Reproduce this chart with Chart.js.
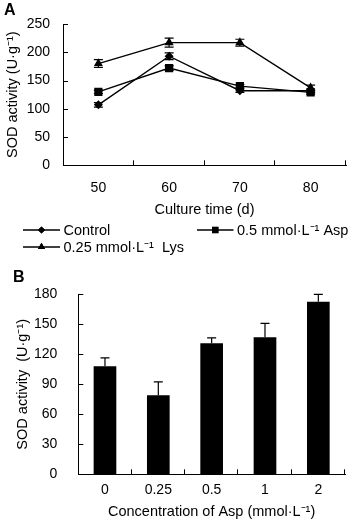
<!DOCTYPE html>
<html>
<head>
<meta charset="utf-8">
<script src="https://cdn.jsdelivr.net/npm/chart.js@4/dist/chart.umd.min.js"></script>
<style>
  html, body { margin:0; padding:0; background:#fff; }
  body { width:354px; height:529px; position:relative; overflow:hidden; font-family:"Liberation Sans", Arial, sans-serif; }
  .panel { position:absolute; font-weight:bold; font-size:16px; line-height:16px; color:#000; }
  #wrapA { position:absolute; left:0; top:0; width:354px; height:262px; }
  #wrapB { position:absolute; left:0; top:262px; width:354px; height:267px; }
</style>
</head>
<body>
<div id="wrapA"><canvas id="chartA" width="354" height="262"></canvas></div>
<div id="wrapB"><canvas id="chartB" width="354" height="267"></canvas></div>
<div class="panel" style="left:4px;top:2px;">A</div>
<div class="panel" style="left:13px;top:269px;">B</div>
<script>
// ---------- Data: panel A ----------
const days = ['50', '60', '70', '80'];
const controlValues = [107, 193, 132, 132];
const controlErrors = [4, 6, 3, 3];
const aspValues = [130, 172, 140, 129];
const aspErrors = [3, 4, 3, 3];
const lysValues = [180, 217, 217, 137];
const lysErrors = [7, 8, 6, 5];
const seriesNames = ['Control', '0.5 mmol\u00B7L\u207B\u00B9 Asp', '0.25 mmol\u00B7L\u207B\u00B9  Lys'];
const yTicksA = [0, 50, 100, 150, 200, 250];

// ---------- Data: panel B ----------
const concentrations = ['0', '0.25', '0.5', '1', '2'];
const sodValues = [108, 79, 131, 137, 172.5];
const sodErrors = [8.5, 13.5, 5.5, 14, 7.5];
const yTicksB = [0, 30, 60, 90, 120, 150, 180];

const FONT = '"Liberation Sans", Arial, sans-serif';
Chart.defaults.color = '#000';
Chart.defaults.font.family = FONT;
Chart.defaults.font.size = 14;

// inward tick marks
const inwardTicks = {
  id: 'inwardTicks',
  afterDraw(chart) {
    const ctx = chart.ctx, a = chart.chartArea, x = chart.scales.x, y = chart.scales.y;
    ctx.save();
    ctx.strokeStyle = '#000';
    ctx.lineWidth = 1;
    ctx.beginPath();
    y.ticks.forEach((t, i) => {
      const py = Math.round(y.getPixelForTick(i)) + 0.5;
      ctx.moveTo(a.left, py); ctx.lineTo(a.left + 5, py);
    });
    const n = x.ticks.length, w = (a.right - a.left) / n;
    for (let i = 1; i <= n; i++) {
      const px = Math.round(a.left + i * w) - 0.5;
      ctx.moveTo(px, a.bottom); ctx.lineTo(px, a.bottom - 5);
    }
    ctx.stroke();
    ctx.restore();
  }
};

// error bars
const errorBars = {
  id: 'errorBars',
  afterDatasetsDraw(chart, args, opts) {
    const ctx = chart.ctx, x = chart.scales.x, y = chart.scales.y;
    ctx.save();
    ctx.strokeStyle = '#000';
    ctx.lineWidth = 1.2;
    chart.data.datasets.forEach((ds, di) => {
      const errs = opts.errors[di];
      if (!errs) return;
      ds.data.forEach((v, i) => {
        const px = x.getPixelForValue(i);
        const top = y.getPixelForValue(v + errs[i]);
        const bot = opts.oneSided ? y.getPixelForValue(v) : y.getPixelForValue(v - errs[i]);
        const cw = opts.cap;
        ctx.beginPath();
        ctx.moveTo(px, top); ctx.lineTo(px, bot);
        ctx.moveTo(px - cw, top); ctx.lineTo(px + cw, top);
        if (!opts.oneSided) { ctx.moveTo(px - cw, bot); ctx.lineTo(px + cw, bot); }
        ctx.stroke();
      });
    });
    ctx.restore();
  }
};

// custom legend for panel A (line + marker glyphs)
const lineLegend = {
  id: 'lineLegend',
  afterDraw(chart, args, opts) {
    const ctx = chart.ctx;
    ctx.save();
    chart.data.datasets.forEach((ds, i) => {
      const p = opts.items[i];
      ctx.strokeStyle = '#000';
      ctx.lineWidth = 1.3;
      ctx.beginPath();
      ctx.moveTo(p.x0, p.y); ctx.lineTo(p.x1, p.y);
      ctx.stroke();
      ctx.fillStyle = '#000';
      Chart.helpers.drawPoint(ctx, { pointStyle: ds.pointStyle, radius: p.r, borderWidth: 0, rotation: 0 }, (p.x0 + p.x1) / 2, p.y);
      ctx.fill();
      ctx.font = '14.5px ' + FONT;
      ctx.textBaseline = 'middle';
      ctx.textAlign = 'left';
      ctx.fillStyle = '#000';
      ctx.fillText(ds.label, p.x1 + 3.5, p.y + 0.5);
    });
    ctx.restore();
  }
};

// ---------- Panel A ----------
new Chart(document.getElementById('chartA'), {
  type: 'line',
  data: {
    labels: days,
    datasets: [
      { label: seriesNames[0], data: controlValues, pointStyle: 'rectRot', pointRadius: 4.5 },
      { label: seriesNames[1], data: aspValues, pointStyle: 'rect', pointRadius: 5.8 },
      { label: seriesNames[2], data: lysValues, pointStyle: 'triangle', pointRadius: 5.3 }
    ].map(d => Object.assign(d, {
      borderColor: '#000', backgroundColor: '#000', borderWidth: 1.4,
      pointBackgroundColor: '#000', pointBorderColor: '#000', pointBorderWidth: 0,
      pointHoverRadius: d.pointRadius, tension: 0, fill: false
    }))
  },
  options: {
    responsive: false, animation: false,
    layout: { padding: { left: 0, right: 8, top: 24, bottom: 43.7 } },
    plugins: {
      legend: { display: false }, tooltip: { enabled: false },
      errorBars: { errors: [controlErrors, aspErrors, lysErrors], cap: 4.5, oneSided: false },
      lineLegend: { items: [
        { x0: 23, x1: 60, y: 230, r: 3.6 },
        { x0: 197, x1: 233.5, y: 230, r: 4.5 },
        { x0: 23, x1: 60, y: 247, r: 4.2 }
      ] }
    },
    scales: {
      x: {
        type: 'category', offset: true,
        grid: { display: false, drawTicks: false },
        border: { display: true, color: '#000', width: 1 },
        ticks: { padding: 14, font: { size: 14 }, maxRotation: 0 },
        title: { display: true, text: 'Culture time (d)', font: { size: 14.5 }, padding: { top: 0, bottom: 0 } },
        afterFit(s) { s.height = 53; }
      },
      y: {
        min: 0, max: 250,
        afterBuildTicks(s) { s.ticks = yTicksA.map(v => ({ value: v })); },
        grid: { display: false, drawTicks: false },
        border: { display: true, color: '#000', width: 1 },
        ticks: { padding: 13, font: { size: 14 } },
        title: { display: true, text: 'SOD activity (U\u00B7g\u207B\u00B9)', font: { size: 14.5 }, padding: { top: 4, bottom: 0 } },
        afterFit(s) { s.width = 63; }
      }
    }
  },
  plugins: [inwardTicks, errorBars, lineLegend]
});

// ---------- Panel B ----------
new Chart(document.getElementById('chartB'), {
  type: 'bar',
  data: {
    labels: concentrations,
    datasets: [{
      label: 'SOD activity', data: sodValues,
      backgroundColor: '#000', borderWidth: 0,
      barPercentage: 0.425, categoryPercentage: 1
    }]
  },
  options: {
    responsive: false, animation: false,
    layout: { padding: { left: 0, right: 9, top: 32.3, bottom: 8.7 } },
    plugins: {
      legend: { display: false }, tooltip: { enabled: false },
      errorBars: { errors: [sodErrors], cap: 4.5, oneSided: true }
    },
    scales: {
      x: {
        grid: { display: false, drawTicks: false, offset: true },
        border: { display: true, color: '#000', width: 1 },
        ticks: { padding: 7, font: { size: 14 }, maxRotation: 0 },
        title: { display: true, text: 'Concentration of Asp (mmol\u00B7L\u207B\u00B9)', font: { size: 14.5 }, padding: { top: 0, bottom: 0 } },
        afterFit(s) { s.height = 46; }
      },
      y: {
        min: 0, max: 180,
        afterBuildTicks(s) { s.ticks = yTicksB.map(v => ({ value: v })); },
        grid: { display: false, drawTicks: false },
        border: { display: true, color: '#000', width: 1 },
        ticks: { padding: 21, font: { size: 14 } },
        title: { display: true, text: 'SOD activity  (U\u00B7g\u207B\u00B9)', font: { size: 14.5 }, padding: { top: 14.6, bottom: 0 } },
        afterFit(s) { s.width = 78.3; }
      }
    }
  },
  plugins: [inwardTicks, errorBars]
});
</script>
</body>
</html>
